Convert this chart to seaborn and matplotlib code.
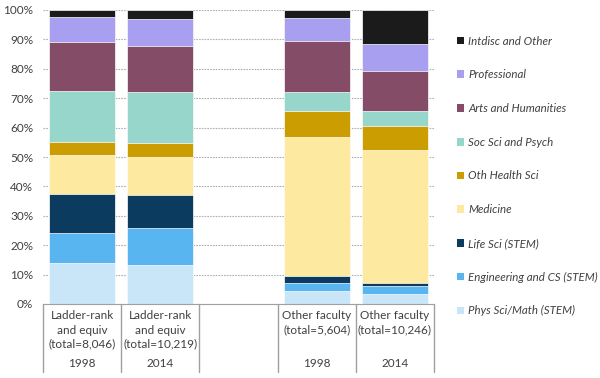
import matplotlib
matplotlib.use("Agg")
import matplotlib.pyplot as plt
import matplotlib.transforms as mtransforms
from matplotlib.patches import Patch
import numpy as np
import pandas as pd
import seaborn as sns

# Data (percent of faculty in each field)
groups = ["LR1998", "LR2014", "gap", "OF1998", "OF2014"]
group_labels = ["Ladder-rank\nand equiv\n(total=8,046)", "Ladder-rank\nand equiv\n(total=10,219)", "",
                "Other faculty\n(total=5,604)", "Other faculty\n(total=10,246)"]
years = ["1998", "2014", "", "1998", "2014"]

fields = ["Phys Sci/Math (STEM)", "Engineering and CS (STEM)", "Life Sci (STEM)", "Medicine",
          "Oth Health Sci", "Soc Sci and Psych", "Arts and Humanities", "Professional", "Intdisc and Other"]
colors = ["#c9e5f8", "#58b5ef", "#0b3b5f", "#fde9a0", "#cc9d00", "#97d6cb", "#854c67", "#a89ff1", "#1b1b1b"]

lr_1998 = [13.8, 10.5, 13.0, 13.4, 4.5, 17.3, 16.7, 8.5, 2.3]
lr_2014 = [13.3, 12.7, 11.1, 12.8, 4.9, 17.3, 15.7, 9.2, 3.0]
of_1998 = [4.3, 2.9, 2.2, 47.4, 8.7, 6.5, 17.4, 8.0, 2.6]
of_2014 = [3.5, 2.5, 1.2, 45.2, 8.2, 5.0, 13.7, 9.1, 11.6]

values = {"LR1998": lr_1998, "LR2014": lr_2014, "OF1998": of_1998, "OF2014": of_2014}

rows = []
for g, vals in values.items():
    cum = np.cumsum(vals)
    cum = cum / cum[-1] * 100
    for f, c in zip(fields, cum):
        rows.append({"group": g, "field": f, "cum": c})
df = pd.DataFrame(rows)

sns.set_style("white")
plt.rcParams["font.family"] = ["Lato", "DejaVu Sans"]
text_color = "#404040"
fs = 8.5

fig = plt.figure(figsize=(6, 3.78), dpi=100)
ax = fig.add_axes([43 / 600, 74 / 378, 391 / 600, 294 / 378])

# stacked bars: draw cumulative totals from the top layer down
for f, col in reversed(list(zip(fields, colors))):
    sub = df[df["field"] == f]
    sns.barplot(data=sub, x="group", y="cum", order=groups, color=col, width=0.84,
                edgecolor="white", linewidth=0.5, saturation=1, ax=ax)

ax.set_ylim(0, 100)
ax.set_xlim(-0.5, 4.5)
ax.set_yticks(np.arange(0, 101, 10))
ax.set_yticklabels([f"{v}%" for v in range(0, 101, 10)], fontsize=fs, color=text_color)
ax.tick_params(axis="y", length=0, pad=7)
ax.set_xticks([])
ax.set_xlabel("")
ax.set_ylabel("")
ax.yaxis.grid(True, linestyle=(0, (1.5, 1)), color="#b0b0b0", linewidth=0.8)
ax.set_axisbelow(True)
for s in ["left", "right", "top"]:
    ax.spines[s].set_visible(False)
ax.spines["bottom"].set_color("#a0a0a0")

# category table below the axis
trans = mtransforms.blended_transform_factory(ax.transData, ax.transAxes)
for i, (lab, yr) in enumerate(zip(group_labels, years)):
    ax.text(i, -0.022, lab, transform=trans, ha="center", va="top", fontsize=fs,
            color=text_color, linespacing=1.35)
    ax.text(i, -0.203, yr, transform=trans, ha="center", va="center", fontsize=fs, color=text_color)
for xb in np.arange(-0.5, 5, 1):
    ax.plot([xb, xb], [0, -0.232], transform=trans, color="#a0a0a0", lw=1, clip_on=False)

handles = [Patch(facecolor=c, edgecolor="none") for c in colors]
fig.legend(handles[::-1], fields[::-1], loc="upper left", bbox_to_anchor=(452 / 600, 1 - 31 / 378),
           frameon=False, prop={"style": "italic", "size": 8.3}, labelcolor=text_color,
           handlelength=0.65, handleheight=0.65, handletextpad=0.35, labelspacing=1.97, borderaxespad=0)

fig.savefig("out.png", dpi=100)
